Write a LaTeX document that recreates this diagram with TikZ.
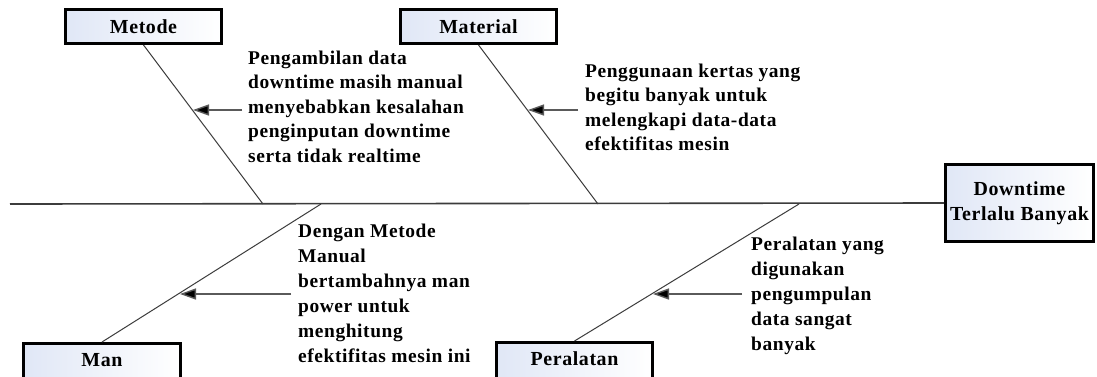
\documentclass[tikz,border=0pt]{standalone}
\usepackage{fontspec}
\setmainfont{Liberation Serif}[LetterSpace=3]
\usetikzlibrary{arrows.meta}
\definecolor{boxblue}{RGB}{224,231,246}
\definecolor{bonegray}{RGB}{60,60,60}
\definecolor{arrgray}{RGB}{90,90,90}
\tikzset{
  catbox/.style={draw=black, line width=3bp, left color=boxblue, right color=white,
    inner sep=0pt, minimum width=156bp, minimum height=34bp,
    font=\fontsize{20}{25}\selectfont\bfseries},
  effbox/.style={catbox, minimum width=148bp, minimum height=77bp, align=center},
  bone/.style={draw=bonegray, line width=1bp},
  spine/.style={draw=bonegray, line width=1.6bp},
  causearrow/.style={draw=arrgray, line width=1.4bp, -{Triangle[length=16bp,width=11bp,fill=black]}},
  causetext/.style={anchor=north west, inner sep=0pt, align=left,
    font=\fontsize{19.5}{24.5}\selectfont\bfseries},
  causetextb/.style={causetext, font=\fontsize{19.5}{25}\selectfont\bfseries}
}
\begin{document}
\begin{tikzpicture}[x=1bp,y=-1bp]
\useasboundingbox[fill=white] (0,0) rectangle (1097,376);
% category boxes
\node[catbox] (metode) at (143.5,26.5) {Metode};
\node[catbox] (material) at (478.5,26.5) {Material};
\node[catbox, minimum height=36bp] (man) at (102,361.5) {\raisebox{3bp}{Man}};
\node[catbox, minimum height=36bp] (peralatan) at (574.5,360.5) {\raisebox{3bp}{Peralatan}};
\node[effbox] (effect) at (1019.5,203) {Downtime\\Terlalu Banyak};
% spine
\coordinate (spL) at (10,204);
\draw[spine] (spL) -- (effect.west);
% bone ends on spine
\coordinate (sMetode) at (263,204);
\coordinate (sMaterial) at (598,204);
\coordinate (sMan) at (321,204);
\coordinate (sPeralatan) at (799,204);
\draw[bone] (metode.south) -- (sMetode);
\draw[bone] (material.south) -- (sMaterial);
\draw[bone] (man.north) -- (sMan);
\draw[bone] (peralatan.north) -- (sPeralatan);
% arrows
\coordinate (tailA) at (242,110); \coordinate (tipA) at (193,110);
\coordinate (tailB) at (578,110); \coordinate (tipB) at (528,110);
\coordinate (tailC) at (291,294); \coordinate (tipC) at (180,294);
\coordinate (tailD) at (742,294); \coordinate (tipD) at (653,294);
\draw[causearrow] (tailA) -- (tipA);
\draw[causearrow] (tailB) -- (tipB);
\draw[causearrow] (tailC) -- (tipC);
\draw[causearrow] (tailD) -- (tipD);
% texts
\node[causetext] (txtA) at (248,50.8) {Pengambilan data\\downtime masih manual\\menyebabkan kesalahan\\penginputan downtime\\serta tidak realtime};
\node[causetext] (txtB) at (585,63.8) {Penggunaan kertas yang\\begitu banyak untuk\\melengkapi data-data\\efektifitas mesin};
\node[causetextb] (txtC) at (298,223.8) {Dengan Metode\\Manual\\bertambahnya man\\power untuk\\menghitung\\efektifitas mesin ini};
\node[causetextb] (txtD) at (751,236.8) {Peralatan yang\\digunakan\\pengumpulan\\data sangat\\banyak};
\end{tikzpicture}
\end{document}
